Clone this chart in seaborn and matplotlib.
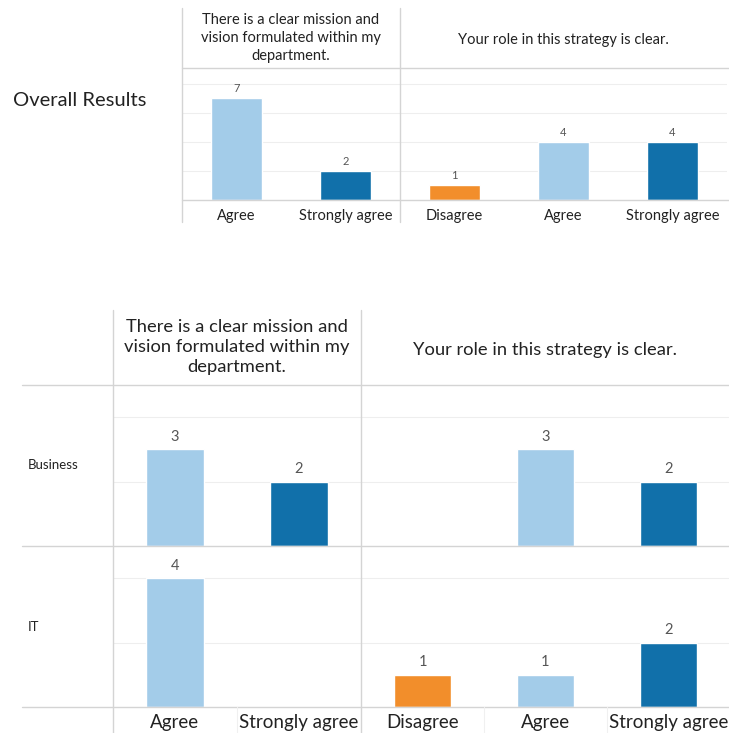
import numpy as np
import pandas as pd
import seaborn as sns
import matplotlib.pyplot as plt
from matplotlib.lines import Line2D

# survey questions and answer categories
questions = ["There is a clear mission and\nvision formulated within my\ndepartment.",
             "Your role in this strategy is clear."]
q1_answers = ["Agree", "Strongly agree"]
q2_answers = ["Disagree", "Agree", "Strongly agree"]

# counts (None = no responses)
overall_q1 = [7, 2]
overall_q2 = [1, 4, 4]
business_q1 = [3, 2]
business_q2 = [None, 3, 2]
it_q1 = [4, None]
it_q2 = [1, 1, 2]

answer_colors = {"Disagree": "#f28e2b", "Agree": "#a3cce9", "Strongly agree": "#1170aa"}

sns.set_style("white")
plt.rcParams['font.family'] = ['Lato', 'DejaVu Sans']

W, H = 729, 733
fig = plt.figure(figsize=(W / 100, H / 100), dpi=100)


def px_axes(x0, y0, x1, y1):
    return fig.add_axes([x0 / W, 1 - y1 / H, (x1 - x0) / W, (y1 - y0) / H])


def hline(y, x0, x1, color="#d4d4d4", lw=1.0):
    fig.add_artist(Line2D([x0 / W, x1 / W], [1 - y / H, 1 - y / H], color=color, lw=lw))


def vline(x, y0, y1, color="#d4d4d4", lw=1.0):
    fig.add_artist(Line2D([x / W, x / W], [1 - y0 / H, 1 - y1 / H], color=color, lw=lw))


def draw(ax, answers, counts, ymax, step, lab_size, lab_pad, tick_size=None, tick_pad=4):
    df = pd.DataFrame({"answer": answers, "count": counts}).dropna()
    sns.barplot(data=df, x="answer", y="count", hue="answer", order=answers,
                palette=answer_colors, saturation=1, width=0.46, legend=False, ax=ax)
    for c in ax.containers:
        ax.bar_label(c, fmt="%d", padding=lab_pad, color="#555555", fontsize=lab_size)
    ax.set_xlim(-0.5, len(answers) - 0.5)
    ax.set_ylim(0, ymax)
    ax.set_yticks(np.arange(step, ymax, step))
    ax.grid(axis="y", color="#eeeeee", lw=0.8)
    ax.set_axisbelow(True)
    ax.set_xlabel("")
    ax.set_ylabel("")
    for s in ax.spines.values():
        s.set_visible(False)
    ax.tick_params(left=False, labelleft=False, bottom=False)
    if tick_size:
        ax.set_xticks(range(len(answers)))
        ax.set_xticklabels(answers, fontsize=tick_size, color="#222222")
        ax.tick_params(axis="x", pad=tick_pad)
    else:
        ax.tick_params(labelbottom=False)


# ---- top chart: overall results ----
draw(px_axes(182, 68, 400, 200), q1_answers, overall_q1, 9.1, 2, 8, 3, 10.5, 3)
draw(px_axes(400, 68, 727, 200), q2_answers, overall_q2, 9.1, 2, 8, 3, 10.5, 3)

fig.text(13 / W, 1 - 100 / H, "Overall Results", fontsize=14.5, ha="left", va="center", color="#222222")
fig.text(291 / W, 1 - 38 / H, questions[0], fontsize=10.5, ha="center", va="center",
         linespacing=1.4, color="#222222")
fig.text(563 / W, 1 - 40 / H, questions[1], fontsize=10.5, ha="center", va="center", color="#222222")

vline(182, 8, 222)
vline(400, 8, 222)
hline(68, 182, 729)
hline(200, 182, 729)

# ---- bottom chart: by department ----
draw(px_axes(113, 385, 361, 546), q1_answers, business_q1, 5.0, 2, 10.5, 4)
draw(px_axes(361, 385, 730, 546), q2_answers, business_q2, 5.0, 2, 10.5, 4)
draw(px_axes(113, 546, 361, 707), q1_answers, it_q1, 5.0, 2, 10.5, 4, 13.5, 1.5)
draw(px_axes(361, 546, 730, 707), q2_answers, it_q2, 5.0, 2, 10.5, 4, 13.5, 1.5)

fig.text(237 / W, 1 - 347 / H, questions[0], fontsize=13.2, ha="center", va="center",
         linespacing=1.28, color="#222222")
fig.text(545 / W, 1 - 350 / H, questions[1], fontsize=13.2, ha="center", va="center", color="#222222")
fig.text(28 / W, 1 - 465 / H, "Business", fontsize=9.5, ha="left", va="center", color="#222222")
fig.text(28 / W, 1 - 627 / H, "IT", fontsize=9.5, ha="left", va="center", color="#222222")

vline(113, 310, 733)
vline(361, 310, 733)
hline(385, 22, 729)
hline(546, 22, 729)
hline(707, 22, 729)
for x in (237, 484, 607):
    vline(x, 707, 733, color="#f0f0f0", lw=0.8)

fig.savefig("out.png", dpi=100)
